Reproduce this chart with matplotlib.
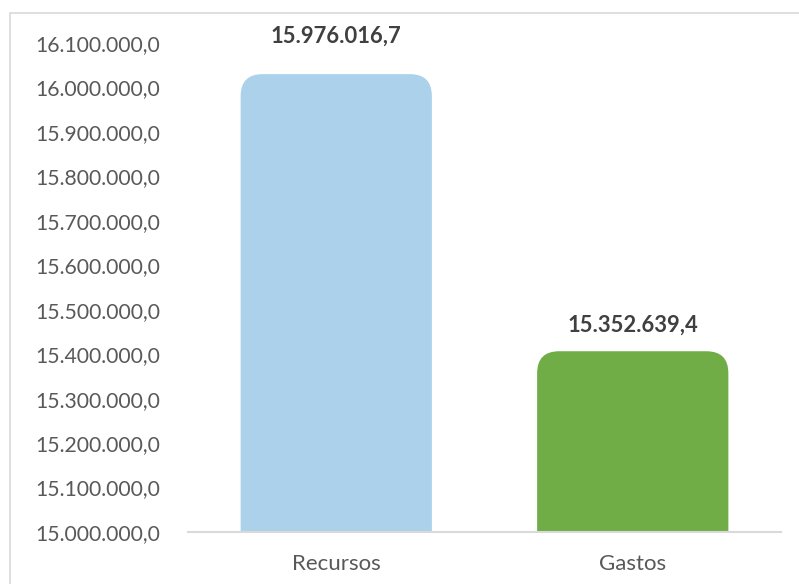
import matplotlib.pyplot as plt
from matplotlib.patches import FancyBboxPatch, Rectangle
from matplotlib.ticker import FuncFormatter

# data
categories = ['Recursos', 'Gastos']
values = [15976016.7, 15352639.4]
colors = ['#ABD2EA', '#70AD47']

y_min = 15000000
y_max = 16100000
y_step = 100000


def fmt_es(v, pos=None):
    s = '{:,.1f}'.format(v)
    return s.replace(',', 'X').replace('.', ',').replace('X', '.')


fig = plt.figure(figsize=(7.99, 5.84), dpi=100)
plt.rcParams['font.family'] = ['Lato', 'DejaVu Sans']

# chart border like Excel
fig.patches.append(Rectangle((10 / 799, -0.1), 1.2, 1 - 13 / 584 + 0.1,
                             transform=fig.transFigure, fill=False,
                             edgecolor='#D9D9D9', linewidth=1.2))

ax = fig.add_axes([188 / 799, 1 - 532 / 584, (781 - 188) / 799, (532 - 43) / 584])
ax.set_xlim(-0.5, len(categories) - 0.5)
ax.set_ylim(y_min, y_max)

# pixel -> data scale for the rounded caps
px_x = 1.0 / ax.bbox.width * (len(categories))
px_y = (y_max - y_min) / ax.bbox.height
r_px = 22
cap_px = 24
bar_w = 0.645

for i, (v, c) in enumerate(zip(values, colors)):
    top = v + cap_px * px_y
    bottom = y_min - 3 * r_px * px_y
    rx = r_px * px_x
    ry = r_px * px_y
    p = FancyBboxPatch((i - bar_w / 2, bottom), bar_w, top - bottom,
                       boxstyle='round,pad=0,rounding_size=%f' % rx,
                       mutation_aspect=ry / rx, facecolor=c, edgecolor='none')
    ax.add_patch(p)

label_off = [38, 26]
for i, v in enumerate(values):
    ax.annotate(fmt_es(v), (i, v + cap_px * px_y), xytext=(0, label_off[i]),
                textcoords='offset pixels', ha='center', va='center',
                fontsize=15.8, fontweight='bold', color='#404040')

ax.set_yticks([y_min + k * y_step for k in range(12)])
ax.yaxis.set_major_formatter(FuncFormatter(fmt_es))
ax.set_xticks(range(len(categories)))
ax.set_xticklabels(categories)
ax.tick_params(axis='both', length=0, colors='#595959')
ax.tick_params(axis='y', pad=20, labelsize=15.2)
ax.tick_params(axis='x', pad=16, labelsize=16)

for s in ['top', 'right', 'left']:
    ax.spines[s].set_visible(False)
ax.spines['bottom'].set_color('#D9D9D9')
ax.spines['bottom'].set_linewidth(1.5)
ax.spines['bottom'].set_zorder(5)

plt.savefig('out.png', dpi=100)
